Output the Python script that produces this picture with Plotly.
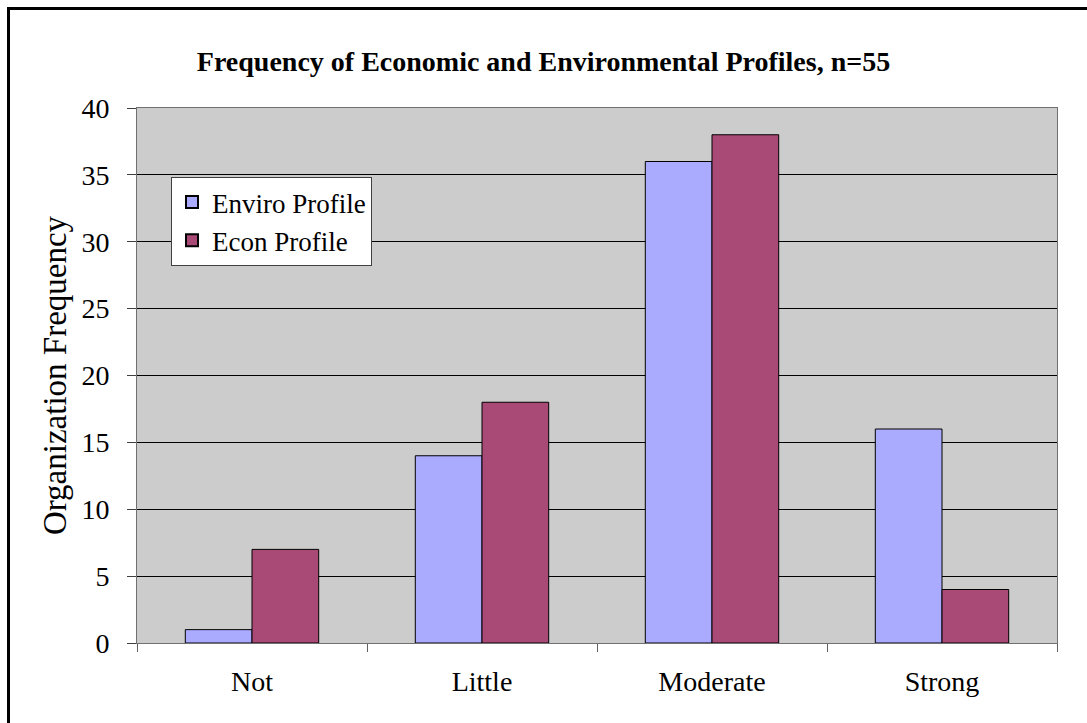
import plotly.graph_objects as go

categories = ["Not", "Little", "Moderate", "Strong"]
enviro = [1, 14, 36, 16]
econ = [7, 18, 38, 4]
series_names = ["Enviro Profile", "Econ Profile"]
y_ticks = [0, 5, 10, 15, 20, 25, 30, 35, 40]

W, H = 1087, 723
L, R, T, B = 137, 1057, 108, 643
pw, ph = R - L, B - T

def px(x):
    return (x - L) / pw

def py(y):
    return (B - y) / ph

FONT = "Liberation Serif, Times New Roman, serif"

fig = go.Figure()
fig.add_trace(go.Bar(x=categories, y=enviro, name=series_names[0],
                     marker=dict(color="#AAAAFF", line=dict(color="#000000", width=1))))
fig.add_trace(go.Bar(x=categories, y=econ, name=series_names[1],
                     marker=dict(color="#A94A76", line=dict(color="#000000", width=1))))

fig.update_layout(
    width=W, height=H,
    margin=dict(l=L, r=W - R, t=T, b=H - B),
    paper_bgcolor="white", plot_bgcolor="#CCCCCC",
    barmode="group", bargap=0.42, bargroupgap=0,
    font=dict(family=FONT, color="black", size=26),
    title=dict(text="<b>Frequency of Economic and Environmental Profiles, n=55</b>",
               x=0.5, xanchor="center", y=1 - 61 / H, yanchor="middle",
               font=dict(family=FONT, size=28, color="black")),
    legend=dict(x=px(171), y=py(177), xanchor="left", yanchor="top",
                bgcolor="white", bordercolor="#404040", borderwidth=1,
                font=dict(family=FONT, size=27, color="black"),
                traceorder="normal", itemsizing="constant",
                tracegroupgap=0),
    showlegend=True,
)

fig.update_xaxes(
    type="category", tickson="boundaries", ticks="outside", ticklen=8,
    tickcolor="#606060", showline=True, linecolor="#707070", linewidth=1,
    mirror=True, showgrid=False, tickfont=dict(family=FONT, size=28),
    ticklabelstandoff=13,
)
fig.update_yaxes(
    range=[0, 40], tickvals=y_ticks, ticks="outside", ticklen=9,
    tickcolor="#404040", showline=True, linecolor="#707070", linewidth=1,
    mirror=True, showgrid=True, gridcolor="#000000", gridwidth=1,
    zeroline=False, tickfont=dict(family=FONT, size=28), ticklabelstandoff=12,
    title=dict(text="Organization Frequency", font=dict(family=FONT, size=33), standoff=4),
)

fig.add_shape(type="rect", xref="paper", yref="paper",
              x0=px(8.5), x1=px(1100), y0=py(735), y1=py(8.5),
              line=dict(color="black", width=3), fillcolor="rgba(0,0,0,0)", layer="above")

fig.write_html("out.html")
